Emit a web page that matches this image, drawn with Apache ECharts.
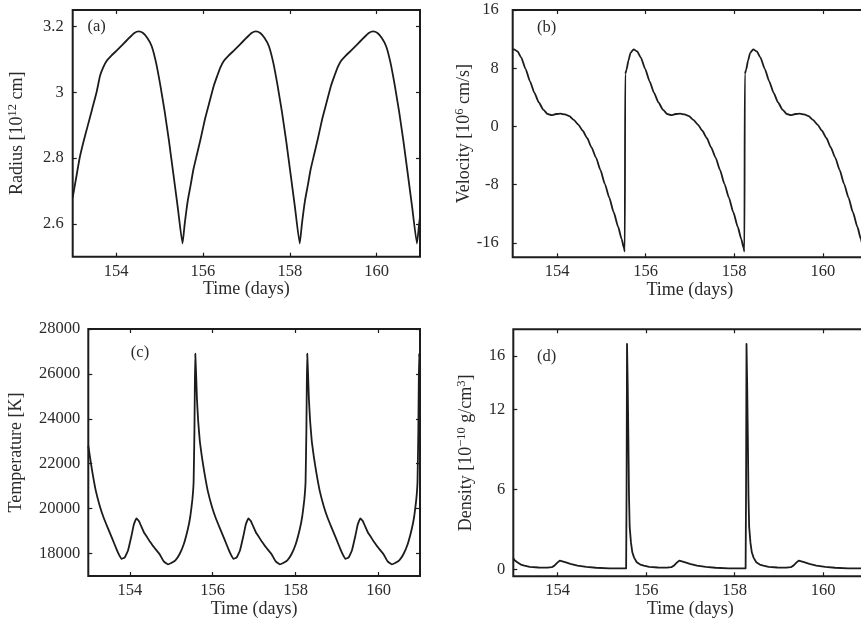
<!DOCTYPE html>
<html>
<head>
<meta charset="utf-8">
<script src="https://cdn.jsdelivr.net/npm/echarts@6/dist/echarts.min.js"></script>
<style>
html,body{margin:0;padding:0;background:#fff;overflow:hidden;width:861px;height:623px;}
#chart{width:880px;height:623px;}
</style>
</head>
<body>
<div id="chart"></div>
<script>
// ---------- Data (time in days, value) ----------
const timeTicks = [154, 156, 158, 160];

const radiusTicks = [2.6, 2.8, 3.0, 3.2];
const radiusData = [
  [153.00,2.68],[153.08,2.74],[153.16,2.80],[153.25,2.85],[153.35,2.90],[153.45,2.95],[153.55,3.00],[153.63,3.05],
  [153.70,3.075],[153.78,3.095],[153.88,3.11],[154.00,3.125],[154.15,3.145],[154.30,3.165],[154.42,3.18],[154.52,3.185],
  [154.62,3.18],[154.72,3.165],[154.82,3.14],[154.92,3.09],[155.02,3.02],[155.12,2.94],[155.22,2.85],[155.32,2.75],
  [155.42,2.65],[155.53,2.54],
  [155.58,2.60],[155.65,2.67],[155.72,2.72],[155.78,2.765],[155.86,2.81],[155.95,2.86],[156.05,2.92],[156.15,2.97],
  [156.25,3.02],[156.33,3.05],[156.40,3.075],[156.48,3.095],[156.58,3.11],[156.70,3.125],[156.85,3.145],[157.00,3.165],
  [157.12,3.18],[157.22,3.185],[157.32,3.18],[157.42,3.165],[157.52,3.14],[157.62,3.09],[157.72,3.02],[157.82,2.94],
  [157.92,2.85],[158.02,2.75],[158.12,2.65],[158.23,2.54],
  [158.28,2.60],[158.35,2.67],[158.42,2.72],[158.48,2.765],[158.56,2.81],[158.65,2.86],[158.75,2.92],[158.85,2.97],
  [158.95,3.02],[159.03,3.05],[159.10,3.075],[159.18,3.095],[159.28,3.11],[159.40,3.125],[159.55,3.145],[159.70,3.165],
  [159.82,3.18],[159.92,3.185],[160.02,3.18],[160.12,3.165],[160.22,3.14],[160.32,3.09],[160.42,3.02],[160.52,2.94],
  [160.62,2.85],[160.72,2.75],[160.82,2.65],[160.93,2.54],[160.98,2.60],[161.00,2.62]
];

const velocityTicks = [-16, -8, 0, 8, 16];
const velocityData = [
  [153.00,10.55],[153.03,10.6],[153.11,10.3],[153.19,9.5],[153.29,7.9],[153.39,6.2],[153.49,4.6],[153.59,3.3],
  [153.69,2.3],[153.79,1.7],[153.88,1.55],[153.98,1.7],[154.08,1.75],[154.18,1.65],[154.28,1.4],[154.38,0.9],
  [154.48,0.25],[154.58,-0.6],[154.68,-1.6],[154.78,-2.9],[154.88,-4.3],[154.98,-6.0],[155.08,-7.9],[155.18,-9.8],
  [155.28,-11.8],[155.38,-13.8],[155.46,-15.5],[155.51,-16.7],[155.53,-17.2],[155.54,7.2],[155.57,7.8],[155.61,9.0],
  [155.66,10.1],
  [155.73,10.6],[155.81,10.3],[155.89,9.5],[155.99,7.9],[156.09,6.2],[156.19,4.6],[156.29,3.3],[156.39,2.3],
  [156.49,1.7],[156.58,1.55],[156.68,1.7],[156.78,1.75],[156.88,1.65],[156.98,1.4],[157.08,0.9],[157.18,0.25],
  [157.28,-0.6],[157.38,-1.6],[157.48,-2.9],[157.58,-4.3],[157.68,-6.0],[157.78,-7.9],[157.88,-9.8],[157.98,-11.8],
  [158.08,-13.8],[158.16,-15.5],[158.21,-16.7],[158.23,-17.2],[158.24,7.2],[158.27,7.8],[158.31,9.0],[158.36,10.1],
  [158.43,10.6],[158.51,10.3],[158.59,9.5],[158.69,7.9],[158.79,6.2],[158.89,4.6],[158.99,3.3],[159.09,2.3],
  [159.19,1.7],[159.28,1.55],[159.38,1.7],[159.48,1.75],[159.58,1.65],[159.68,1.4],[159.78,0.9],[159.88,0.25],
  [159.98,-0.6],[160.08,-1.6],[160.18,-2.9],[160.28,-4.3],[160.38,-6.0],[160.48,-7.9],[160.58,-9.8],[160.68,-11.8],
  [160.78,-13.8],[160.86,-15.5],[160.91,-16.7],[160.93,-17.2],[160.94,7.2],[160.97,7.8],[161.00,9.0]
];

const temperatureTicks = [18000, 20000, 22000, 24000, 26000, 28000];
const temperatureData = [
  [153.00,22800],[153.04,22300],[153.10,21600],[153.18,20800],[153.28,20100],[153.38,19550],[153.48,19100],[153.58,18650],
  [153.68,18200],[153.74,17950],[153.80,17760],[153.88,17830],[153.96,18150],[154.04,18780],[154.10,19300],[154.16,19560],
  [154.22,19450],[154.28,19200],[154.34,18950],[154.40,18780],[154.48,18550],[154.56,18340],[154.64,18150],[154.72,17970],
  [154.82,17650],[154.92,17520],[155.00,17580],[155.10,17700],[155.20,17970],[155.30,18400],[155.40,19080],[155.46,19650],
  [155.51,20400],[155.54,21200],[155.56,23500],[155.57,25500],[155.58,26900],
  [155.60,26000],[155.62,24900],[155.65,23900],[155.69,23000],[155.74,22300],[155.80,21600],[155.88,20800],[155.98,20100],
  [156.08,19550],[156.18,19100],[156.28,18650],[156.38,18200],[156.44,17950],[156.50,17760],[156.58,17830],[156.66,18150],
  [156.74,18780],[156.80,19300],[156.86,19560],[156.92,19450],[156.98,19200],[157.04,18950],[157.10,18780],[157.18,18550],
  [157.26,18340],[157.34,18150],[157.42,17970],[157.52,17650],[157.62,17520],[157.70,17580],[157.80,17700],[157.90,17970],
  [158.00,18400],[158.10,19080],[158.16,19650],[158.21,20400],[158.24,21200],[158.26,23500],[158.27,25500],[158.28,26900],
  [158.30,26000],[158.32,24900],[158.35,23900],[158.39,23000],[158.44,22300],[158.50,21600],[158.58,20800],[158.68,20100],
  [158.78,19550],[158.88,19100],[158.98,18650],[159.08,18200],[159.14,17950],[159.20,17760],[159.28,17830],[159.36,18150],
  [159.44,18780],[159.50,19300],[159.56,19560],[159.62,19450],[159.68,19200],[159.74,18950],[159.80,18780],[159.88,18550],
  [159.96,18340],[160.04,18150],[160.12,17970],[160.22,17650],[160.32,17520],[160.40,17580],[160.50,17700],[160.60,17970],
  [160.70,18400],[160.80,19080],[160.86,19650],[160.91,20400],[160.94,21200],[160.96,23500],[160.97,25500],[160.98,26900],
  [161.00,26000]
];

const densityTicks = [0, 6, 12, 16];
const densityData = [
  [153.00,0.85],[153.03,0.7],[153.09,0.55],[153.17,0.38],[153.25,0.3],[153.37,0.2],[153.57,0.16],[153.77,0.15],
  [153.87,0.18],[153.93,0.3],[153.99,0.5],[154.05,0.68],[154.09,0.66],[154.17,0.56],[154.29,0.43],[154.45,0.3],
  [154.65,0.2],[154.87,0.14],[155.17,0.1],[155.47,0.09],[155.55,0.1],[155.56,6.0],[155.57,16.9],
  [155.585,14.0],[155.60,10.0],[155.615,5.5],[155.63,3.2],[155.66,2.0],[155.69,1.3],[155.73,0.9],[155.79,0.55],
  [155.87,0.38],[155.95,0.3],[156.07,0.2],[156.27,0.16],[156.47,0.15],[156.57,0.18],[156.63,0.3],[156.69,0.5],
  [156.75,0.68],[156.79,0.66],[156.87,0.56],[156.99,0.43],[157.15,0.3],[157.35,0.2],[157.57,0.14],[157.87,0.1],
  [158.17,0.09],[158.25,0.1],[158.26,6.0],[158.27,16.9],
  [158.285,14.0],[158.30,10.0],[158.315,5.5],[158.33,3.2],[158.36,2.0],[158.39,1.3],[158.43,0.9],[158.49,0.55],
  [158.57,0.38],[158.65,0.3],[158.77,0.2],[158.97,0.16],[159.17,0.15],[159.27,0.18],[159.33,0.3],[159.39,0.5],
  [159.45,0.68],[159.49,0.66],[159.57,0.56],[159.69,0.43],[159.85,0.3],[160.05,0.2],[160.27,0.14],[160.57,0.1],
  [160.87,0.09],[160.95,0.1],[160.96,6.0],[160.97,16.9],[161.00,12.0]
];

// ---------- Styling / layout ----------
const FONT = "'Liberation Serif', 'DejaVu Serif', serif";
const INK = '#1c1c1c';
const TXT = '#2a2a2a';

const panels = [
  {grid:{left:72.7, top:10, width:347.3, height:246.7}, ymin:2.5, ymax:3.25, ticks:radiusTicks, data:radiusData,
   name:'{n|Radius [10}{s|12}{n| cm]}', nameGap:44, labelMargin:9, tag:'(a)', tagPos:[96.7,26.7], smooth:0.15, mono:null},
  {grid:{left:512.7, top:10, width:354.4, height:247.3}, ymin:-18, ymax:16, ticks:velocityTicks, data:velocityData,
   name:'{n|Velocity [10}{s|6}{n| cm/s]}', nameGap:35, labelMargin:14, tag:'(b)', tagPos:[546.7,28], smooth:0.2, mono:'x'},
  {grid:{left:88.3, top:329, width:331.7, height:247}, ymin:17000, ymax:28000, ticks:temperatureTicks, data:temperatureData,
   name:'{n|Temperature [K]}', nameGap:61, labelMargin:8, tag:'(c)', tagPos:[140,353], smooth:0.1, mono:null},
  {grid:{left:513.3, top:329.3, width:354, height:247}, ymin:-0.5, ymax:18, ticks:densityTicks, data:densityData,
   name:'{n|Density [10}{s|−10}{n| g/cm}{s|3}{n|]}', nameGap:36, labelMargin:8, tag:'(d)', tagPos:[546.7,356.7], smooth:0, mono:null}
];

const rich = {
  n:{fontFamily:FONT, fontSize:18, color:TXT, lineHeight:22, verticalAlign:'middle'},
  s:{fontFamily:FONT, fontSize:12.5, color:TXT, lineHeight:12, verticalAlign:'top'}
};

const grids = [], xAxes = [], yAxes = [], series = [], graphics = [];
const tickStyle = {color:INK, width:1.2};

panels.forEach((p, i) => {
  grids.push(Object.assign({show:true, borderColor:INK, borderWidth:2, backgroundColor:'transparent'}, p.grid));
  xAxes.push({
    type:'value', gridIndex:i, min:153, max:161, position:'bottom',
    axisLine:{show:false, onZero:false},
    axisTick:{show:true, inside:true, length:4, customValues:timeTicks, lineStyle:tickStyle},
    axisLabel:{show:true, customValues:timeTicks, margin:6, fontFamily:FONT, fontSize:16.5, color:TXT},
    splitLine:{show:false},
    name:'Time (days)', nameLocation:'middle', nameGap:22,
    nameTextStyle:{fontFamily:FONT, fontSize:18, color:TXT}
  });
  xAxes.push({
    type:'value', gridIndex:i, min:153, max:161, position:'top',
    axisLine:{show:false, onZero:false},
    axisTick:{show:true, inside:true, length:4, customValues:timeTicks, lineStyle:tickStyle},
    axisLabel:{show:false}, splitLine:{show:false}
  });
  yAxes.push({
    type:'value', gridIndex:i, min:p.ymin, max:p.ymax, position:'left',
    axisLine:{show:false, onZero:false},
    axisTick:{show:true, inside:true, length:4, customValues:p.ticks, lineStyle:tickStyle},
    axisLabel:{show:true, customValues:p.ticks, margin:p.labelMargin, fontFamily:FONT, fontSize:16.5, color:TXT,
      formatter:v => String(v)},
    splitLine:{show:false},
    name:p.name, nameLocation:'middle', nameGap:p.nameGap, nameRotate:90,
    nameTextStyle:{rich:rich}
  });
  yAxes.push({
    type:'value', gridIndex:i, min:p.ymin, max:p.ymax, position:'right',
    axisLine:{show:false, onZero:false},
    axisTick:{show:true, inside:true, length:4, customValues:p.ticks, lineStyle:tickStyle},
    axisLabel:{show:false}, splitLine:{show:false}
  });
  const s = {
    type:'line', xAxisIndex:2*i, yAxisIndex:2*i, data:p.data, showSymbol:false, symbol:'none',
    smooth:p.smooth, lineStyle:{color:INK, width:1.8, join:'round'}, clip:true, animation:false
  };
  if (p.mono) s.smoothMonotone = p.mono;
  series.push(s);
  graphics.push({
    type:'text', x:p.tagPos[0], y:p.tagPos[1],
    style:{text:p.tag, font:'16.5px ' + FONT, fill:TXT, textAlign:'center', textVerticalAlign:'middle'}
  });
});

const chart = echarts.init(document.getElementById('chart'), null, {renderer:'canvas'});
chart.setOption({
  backgroundColor:'#fff',
  animation:false,
  grid:grids, xAxis:xAxes, yAxis:yAxes, series:series, graphic:graphics
});
</script>
</body>
</html>
